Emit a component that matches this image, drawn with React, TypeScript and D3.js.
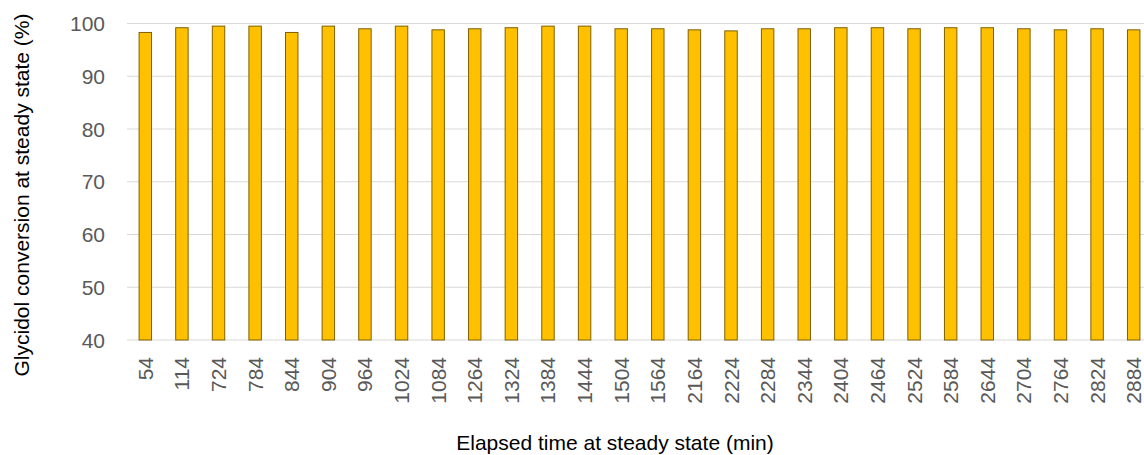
import React from "react";
import * as d3 from "d3";

const categories = ["54","114","724","784","844","904","964","1024","1084","1264","1324","1384","1444","1504","1564","2164","2224","2284","2344","2404","2464","2524","2584","2644","2704","2764","2824","2884"];
const conversion = [98.3,99.2,99.5,99.5,98.3,99.5,99.0,99.5,98.8,99.0,99.2,99.5,99.5,99.0,99.0,98.8,98.6,99.0,99.0,99.2,99.2,99.0,99.2,99.2,99.0,98.8,99.0,98.8];
const yTicks = [40,50,60,70,80,90,100];

const W = 1144, H = 455;
const left = 127, right = 1152, top = 23.5, bottom = 340;

export default function App() {
  const x = d3.scaleBand<string>().domain(categories).range([left, right]).paddingInner(0.66).paddingOuter(0.33);
  const y = d3.scaleLinear().domain([40, 100]).range([bottom, top]);
  const font = "'Liberation Sans', Arial, sans-serif";
  return (
    <svg width={W} height={H} style={{ position: "absolute", left: 0, top: 0, background: "#fff" }} fontFamily={font}>
      {yTicks.map(t => (
        <g key={t}>
          <line x1={left} x2={W + 20} y1={y(t)} y2={y(t)} stroke="#d9d9d9" strokeWidth={1} />
          <text x={105} y={y(t)} textAnchor="end" dominantBaseline="central" fontSize={21} fill="#595959">{t}</text>
        </g>
      ))}
      {categories.map((c, i) => (
        <rect key={c} x={x(c)!} y={y(conversion[i])} width={x.bandwidth()} height={bottom - y(conversion[i])}
          fill="#FFC000" stroke="#7F6000" strokeWidth={1} />
      ))}
      {categories.map(c => (
        <text key={"l" + c} transform={`translate(${x(c)! + x.bandwidth() / 2},${357}) rotate(-90)`}
          textAnchor="end" dominantBaseline="central" fontSize={21} fill="#595959">{c}</text>
      ))}
      <text transform={`translate(21,${195}) rotate(-90)`} textAnchor="middle" dominantBaseline="central" fontSize={21} fill="#000">Glycidol conversion at steady state (%)</text>
      <text x={615} y={442} textAnchor="middle" dominantBaseline="central" fontSize={21} fill="#000">Elapsed time at steady state (min)</text>
    </svg>
  );
}
